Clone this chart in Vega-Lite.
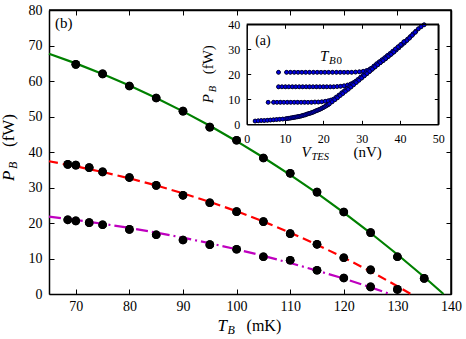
{
 "$schema": "https://vega.github.io/schema/vega-lite/v6.json",
 "width": 402, "height": 284,
 "autosize": {"type": "none"},
 "padding": {"left": 49, "top": 10, "right": 15, "bottom": 45},
 "background": "white",
 "config": {
  "view": {"stroke": null},
  "axis": {"grid": false, "domainColor": "black", "tickColor": "black", "labelColor": "black", "labelFont": "Liberation Serif", "domainWidth": 1.5, "tickWidth": 1, "labelFlush": false, "labelOverlap": false}
 },
 "datasets": {
  "frameMain": [{"i":1,"T":65,"P":80},{"i":2,"T":140,"P":80},{"i":3,"T":140,"P":0}],
  "frameInset": [{"i":1,"V":0,"P":40},{"i":2,"V":50,"P":40},{"i":3,"V":50,"P":0}],
  "fitG": [
   {"T":65,"P":67.7},{"T":70,"P":64.96},{"T":75,"P":61.98},{"T":80,"P":58.73},{"T":85,"P":55.21},{"T":90,"P":51.44},{"T":95,"P":47.39},{"T":100,"P":43.05},{"T":105,"P":38.45},{"T":110,"P":33.56},{"T":115,"P":28.39},{"T":120,"P":22.93},{"T":125,"P":17.18},{"T":130,"P":11.13},{"T":135,"P":4.78},{"T":138.6,"P":0}
  ],
  "fitR": [
   {"T":65,"P":37.4},{"T":70,"P":35.98},{"T":75,"P":34.37},{"T":80,"P":32.58},{"T":85,"P":30.58},{"T":90,"P":28.37},{"T":95,"P":25.95},{"T":100,"P":23.31},{"T":105,"P":20.41},{"T":110,"P":17.27},{"T":115,"P":13.89},{"T":120,"P":10.24},{"T":125,"P":6.37},{"T":130,"P":2.2},{"T":132.5,"P":0}
  ],
  "fitM": [
   {"T":65,"P":21.8},{"T":70,"P":20.85},{"T":75,"P":19.79},{"T":80,"P":18.61},{"T":85,"P":17.29},{"T":90,"P":15.86},{"T":95,"P":14.29},{"T":100,"P":12.59},{"T":105,"P":10.74},{"T":110,"P":8.74},{"T":115,"P":6.59},{"T":120,"P":4.34},{"T":125,"P":1.88},{"T":128.6,"P":0}
  ],
  "meas": [
   {"T":70,"P":64.7},{"T":75,"P":62.0},{"T":80,"P":58.6},{"T":85,"P":55.2},{"T":90,"P":51.5},{"T":95,"P":47.0},{"T":100,"P":43.3},{"T":105,"P":38.3},{"T":110,"P":34.0},{"T":115,"P":28.7},{"T":120,"P":23.1},{"T":125,"P":17.3},{"T":130,"P":10.5},{"T":135,"P":4.4},
   {"T":68.5,"P":36.5},{"T":70,"P":36.3},{"T":72.5,"P":35.6},{"T":75,"P":34.4},{"T":80,"P":32.8},{"T":85,"P":30.6},{"T":90,"P":27.8},{"T":95,"P":25.7},{"T":100,"P":23.2},{"T":105,"P":20.4},{"T":110,"P":17.0},{"T":115,"P":14.0},{"T":120,"P":10.2},{"T":125,"P":6.8},{"T":130,"P":1.3},
   {"T":68.5,"P":20.9},{"T":70,"P":20.6},{"T":72.5,"P":20.1},{"T":75,"P":19.5},{"T":80,"P":18.2},{"T":85,"P":16.7},{"T":90,"P":15.2},{"T":95,"P":13.9},{"T":100,"P":12.6},{"T":105,"P":10.5},{"T":110,"P":9.5},{"T":115,"P":6.7},{"T":120,"P":4.5},{"T":125,"P":2.0}
  ],
  "iv": [
   {"V":8.3,"P":20.8},{"V":10.4,"P":20.8},{"V":11.4,"P":20.8},{"V":12.4,"P":20.8},{"V":13.4,"P":20.8},{"V":14.4,"P":20.8},{"V":15.4,"P":20.8},{"V":16.4,"P":20.8},{"V":17.4,"P":20.8},{"V":18.4,"P":20.8},{"V":19.4,"P":20.8},{"V":20.4,"P":20.8},{"V":21.4,"P":20.8},{"V":22.4,"P":20.8},{"V":23.4,"P":20.8},{"V":24.4,"P":20.8},{"V":25.4,"P":20.8},{"V":26.4,"P":20.8},{"V":27.4,"P":20.8},{"V":28.4,"P":20.9},{"V":29.4,"P":21.0},{"V":30.4,"P":21.2},{"V":31.3,"P":21.5},{"V":32.1,"P":22.0},{"V":32.9,"P":22.6},{"V":33.6,"P":23.5},{"V":34.3,"P":24.3},{"V":35.0,"P":25.1},{"V":35.7,"P":25.9},{"V":36.4,"P":26.8},{"V":37.1,"P":27.6},{"V":37.8,"P":28.5},{"V":38.5,"P":29.4},{"V":39.2,"P":30.3},{"V":39.9,"P":31.2},{"V":40.6,"P":32.1},{"V":41.3,"P":33.1},{"V":42.0,"P":34.1},{"V":42.7,"P":35.1},{"V":43.4,"P":36.2},{"V":44.1,"P":37.2},{"V":44.8,"P":38.2},{"V":45.5,"P":39.0},{"V":46.3,"P":39.8},
   {"V":8.3,"P":15.0},{"V":9.2,"P":15.0},{"V":10.1,"P":15.0},{"V":11.0,"P":15.0},{"V":11.9,"P":15.0},{"V":12.8,"P":15.0},{"V":13.7,"P":15.0},{"V":14.6,"P":15.0},{"V":15.5,"P":15.0},{"V":16.4,"P":15.0},{"V":17.3,"P":15.0},{"V":18.2,"P":15.0},{"V":19.1,"P":15.0},{"V":20.0,"P":15.0},{"V":20.9,"P":15.0},{"V":21.8,"P":15.0},{"V":22.7,"P":15.0},{"V":23.6,"P":15.1},{"V":24.5,"P":15.2},{"V":25.4,"P":15.4},{"V":26.3,"P":15.7},{"V":27.1,"P":16.1},{"V":27.8,"P":16.6},{"V":28.5,"P":17.2},{"V":29.2,"P":17.8},{"V":29.9,"P":18.6},{"V":30.6,"P":19.4},{"V":31.3,"P":20.2},{"V":32.0,"P":21.1},{"V":32.7,"P":22.0},{"V":33.4,"P":22.9},{"V":34.1,"P":23.8},{"V":34.8,"P":24.6},{"V":35.5,"P":25.4},{"V":36.2,"P":26.2},{"V":36.9,"P":27.1},{"V":37.6,"P":28.0},{"V":38.3,"P":28.9},{"V":39.0,"P":29.7},{"V":39.7,"P":30.6},{"V":40.4,"P":31.6},{"V":41.1,"P":32.5},{"V":41.8,"P":33.5},{"V":42.5,"P":34.5},{"V":43.2,"P":35.6},{"V":44.0,"P":36.8},
   {"V":5.6,"P":8.8},{"V":7.0,"P":8.8},{"V":7.9,"P":8.8},{"V":8.8,"P":8.8},{"V":9.7,"P":8.8},{"V":10.6,"P":8.8},{"V":11.5,"P":8.8},{"V":12.4,"P":8.8},{"V":13.3,"P":8.8},{"V":14.2,"P":8.8},{"V":15.1,"P":8.8},{"V":16.0,"P":8.8},{"V":16.9,"P":8.8},{"V":17.8,"P":8.9},{"V":18.7,"P":8.9},{"V":19.6,"P":9.0},{"V":20.5,"P":9.2},{"V":21.3,"P":9.4},{"V":22.0,"P":9.7},{"V":22.7,"P":10.1},{"V":23.4,"P":10.9},{"V":24.1,"P":11.7},{"V":24.8,"P":12.6},{"V":25.5,"P":13.4},{"V":26.2,"P":14.3},{"V":26.9,"P":15.2},{"V":27.6,"P":16.1},{"V":28.3,"P":17.0},{"V":29.0,"P":17.9},{"V":29.7,"P":18.8},{"V":30.4,"P":19.7},{"V":31.1,"P":20.6},{"V":31.8,"P":21.5},{"V":32.5,"P":22.4},{"V":33.2,"P":23.3},{"V":33.9,"P":24.2},{"V":34.6,"P":25.0},{"V":35.3,"P":25.8},{"V":36.0,"P":26.6},{"V":36.7,"P":27.5},{"V":37.4,"P":28.3},{"V":38.1,"P":29.2},{"V":38.8,"P":30.1},{"V":39.5,"P":31.0},{"V":40.2,"P":31.9},{"V":41.0,"P":33.0},
   {"V":2.2,"P":1.3},{"V":3.0,"P":1.4},{"V":3.8,"P":1.5},{"V":4.6,"P":1.5},{"V":5.4,"P":1.6},{"V":6.2,"P":1.7},{"V":7.0,"P":1.8},{"V":7.8,"P":1.9},{"V":8.6,"P":2.0},{"V":9.4,"P":2.1},{"V":10.2,"P":2.2},{"V":10.6,"P":2.3},{"V":11.0,"P":2.4},{"V":11.4,"P":2.5},{"V":11.8,"P":2.6},{"V":12.15,"P":2.7},{"V":12.5,"P":2.8},{"V":12.85,"P":2.9},{"V":13.2,"P":3.0},{"V":13.55,"P":3.1},{"V":13.9,"P":3.2},{"V":14.25,"P":3.35},{"V":14.6,"P":3.5},{"V":14.95,"P":3.65},{"V":15.3,"P":3.8},{"V":15.65,"P":4.0},{"V":16.0,"P":4.2},{"V":16.35,"P":4.35},{"V":16.7,"P":4.5},{"V":17.05,"P":4.7},{"V":17.4,"P":4.9},{"V":17.75,"P":5.15},{"V":18.1,"P":5.4},{"V":18.45,"P":5.6},{"V":18.8,"P":5.8},{"V":19.15,"P":6.05},{"V":19.5,"P":6.3},{"V":19.85,"P":6.6},{"V":20.2,"P":6.9},{"V":20.55,"P":7.2},{"V":20.9,"P":7.5},{"V":21.25,"P":7.85},{"V":21.6,"P":8.2},{"V":22.3,"P":9.0},{"V":23.0,"P":9.8},{"V":23.7,"P":10.6},{"V":24.4,"P":11.5},{"V":25.1,"P":12.3},{"V":25.8,"P":13.2},{"V":26.5,"P":14.0},{"V":27.2,"P":14.9},{"V":27.9,"P":15.8},{"V":28.6,"P":16.7},{"V":29.3,"P":17.6},{"V":30.0,"P":18.5},{"V":30.7,"P":19.4},{"V":31.4,"P":20.3},{"V":32.1,"P":21.2},{"V":32.8,"P":22.1},{"V":33.5,"P":23.0},{"V":34.2,"P":23.8},{"V":34.9,"P":24.7},{"V":35.6,"P":25.5},{"V":36.3,"P":26.3},{"V":37.0,"P":27.2},{"V":37.7,"P":28.0},{"V":38.4,"P":28.9}
  ]
 },
 "layer": [
  {"data": {"name": "fitG"},
   "mark": {"type": "line", "color": "#008000", "strokeWidth": 2.2},
   "encoding": {
    "x": {"field": "T", "type": "quantitative", "scale": {"domain": [65, 140], "nice": false, "zero": false},
          "axis": {"orient": "bottom", "title": null, "values": [70, 80, 90, 100, 110, 120, 130, 140], "tickSize": -5, "labelPadding": 10, "labelFontSize": 14}},
    "y": {"field": "P", "type": "quantitative", "scale": {"domain": [0, 80], "nice": false},
          "axis": {"orient": "left", "title": null, "values": [0, 10, 20, 30, 40, 50, 60, 70, 80], "tickSize": -5, "labelPadding": 12, "labelFontSize": 14}}
   }},
  {"data": {"name": "meas"},
   "mark": {"type": "point", "filled": true, "color": "black", "size": 75, "opacity": 1},
   "encoding": {
    "x": {"field": "T", "type": "quantitative", "scale": {"domain": [65, 140], "nice": false, "zero": false},
          "axis": {"orient": "top", "title": null, "values": [70, 80, 90, 100, 110, 120, 130, 140], "tickSize": -5, "labels": false}},
    "y": {"field": "P", "type": "quantitative", "scale": {"domain": [0, 80], "nice": false},
          "axis": {"orient": "right", "title": null, "values": [0, 10, 20, 30, 40, 50, 60, 70, 80], "tickSize": -5, "labels": false}}
   }},
  {"data": {"name": "iv"},
   "mark": {"type": "point", "filled": true, "fill": "#0000e0", "stroke": "black", "strokeWidth": 0.6, "size": 15, "opacity": 1},
   "encoding": {
    "x": {"field": "V", "type": "quantitative", "scale": {"domain": [0, 50], "range": [197.7, 389.3], "nice": false, "zero": false},
          "axis": {"orient": "bottom", "title": null, "offset": -169.7, "values": [0, 10, 20, 30, 40, 50], "tickSize": -4, "labelPadding": 13, "labelFontSize": 12}},
    "y": {"field": "P", "type": "quantitative", "scale": {"domain": [0, 40], "range": [114.3, 14.3], "nice": false},
          "axis": {"orient": "left", "title": null, "offset": -197.7, "values": [0, 10, 20, 30, 40], "tickSize": -4, "labelPadding": 11, "labelFontSize": 12}}
   }},
  {"data": {"name": "iv"},
   "mark": {"type": "point", "filled": true, "fill": "#0000e0", "stroke": "black", "strokeWidth": 0.6, "size": 15, "opacity": 1},
   "encoding": {
    "x": {"field": "V", "type": "quantitative", "scale": {"domain": [0, 50], "range": [197.7, 389.3], "nice": false, "zero": false},
          "axis": {"orient": "top", "title": null, "offset": -14.3, "values": [0, 10, 20, 30, 40, 50], "tickSize": -4, "labels": false}},
    "y": {"field": "P", "type": "quantitative", "scale": {"domain": [0, 40], "range": [114.3, 14.3], "nice": false},
          "axis": {"orient": "right", "title": null, "offset": -12.7, "values": [0, 10, 20, 30, 40], "tickSize": -4, "labels": false}}
   }},
  {"data": {"name": "frameMain"},
   "mark": {"type": "line", "color": "black", "strokeWidth": 1.5},
   "encoding": {
    "x": {"field": "T", "type": "quantitative", "scale": {"domain": [65, 140], "nice": false, "zero": false}, "axis": null},
    "y": {"field": "P", "type": "quantitative", "scale": {"domain": [0, 80], "nice": false}, "axis": null},
    "order": {"field": "i", "type": "quantitative"}
   }},
  {"data": {"name": "frameInset"},
   "mark": {"type": "line", "color": "black", "strokeWidth": 1.5},
   "encoding": {
    "x": {"field": "V", "type": "quantitative", "scale": {"domain": [0, 50], "range": [197.7, 389.3], "nice": false, "zero": false}, "axis": null},
    "y": {"field": "P", "type": "quantitative", "scale": {"domain": [0, 40], "range": [114.3, 14.3], "nice": false}, "axis": null},
    "order": {"field": "i", "type": "quantitative"}
   }},
  {"data": {"name": "fitR"},
   "mark": {"type": "line", "color": "#ff0000", "strokeWidth": 2.2, "strokeDash": [9, 5]},
   "encoding": {
    "x": {"field": "T", "type": "quantitative", "scale": {"domain": [65, 140], "nice": false, "zero": false}, "axis": null},
    "y": {"field": "P", "type": "quantitative", "scale": {"domain": [0, 80], "nice": false}, "axis": null}
   }},
  {"data": {"name": "fitM"},
   "mark": {"type": "line", "color": "#bf00bf", "strokeWidth": 2.2, "strokeDash": [12, 4, 2, 4]},
   "encoding": {
    "x": {"field": "T", "type": "quantitative", "scale": {"domain": [65, 140], "nice": false, "zero": false}, "axis": null},
    "y": {"field": "P", "type": "quantitative", "scale": {"domain": [0, 80], "nice": false}, "axis": null}
   }},
  {"data": {"name": "meas"},
   "mark": {"type": "point", "filled": true, "color": "black", "size": 75, "opacity": 1},
   "encoding": {
    "x": {"field": "T", "type": "quantitative", "scale": {"domain": [65, 140], "nice": false, "zero": false}, "axis": null},
    "y": {"field": "P", "type": "quantitative", "scale": {"domain": [0, 80], "nice": false}, "axis": null}
   }},
  {"data": {"values": [{}]},
   "mark": {"type": "text", "font": "Liberation Serif", "color": "black", "text": "T", "fontStyle": "italic", "fontSize": 17, "align": "left", "baseline": "alphabetic", "dx": -19, "dy": 37},
   "encoding": {"x": {"datum": 100, "type": "quantitative", "scale": {"domain": [65, 140], "nice": false, "zero": false}, "axis": null}, "y": {"datum": 0, "type": "quantitative", "scale": {"domain": [0, 80], "nice": false}, "axis": null}}},
  {"data": {"values": [{}]},
   "mark": {"type": "text", "font": "Liberation Serif", "color": "black", "text": "B", "fontStyle": "italic", "fontSize": 12, "align": "left", "baseline": "alphabetic", "dx": -9, "dy": 40},
   "encoding": {"x": {"datum": 100, "type": "quantitative", "scale": {"domain": [65, 140], "nice": false, "zero": false}, "axis": null}, "y": {"datum": 0, "type": "quantitative", "scale": {"domain": [0, 80], "nice": false}, "axis": null}}},
  {"data": {"values": [{}]},
   "mark": {"type": "text", "font": "Liberation Serif", "color": "black", "text": "(mK)", "fontSize": 16, "align": "left", "baseline": "alphabetic", "dx": 10, "dy": 37},
   "encoding": {"x": {"datum": 100, "type": "quantitative", "scale": {"domain": [65, 140], "nice": false, "zero": false}, "axis": null}, "y": {"datum": 0, "type": "quantitative", "scale": {"domain": [0, 80], "nice": false}, "axis": null}}},
  {"data": {"values": [{}]},
   "mark": {"type": "text", "font": "Liberation Serif", "color": "black", "text": "P", "fontStyle": "italic", "fontSize": 17, "align": "left", "baseline": "alphabetic", "angle": 270, "dx": -29, "dy": -35},
   "encoding": {"x": {"datum": 65, "type": "quantitative", "scale": {"domain": [65, 140], "nice": false, "zero": false}, "axis": null}, "y": {"datum": 40, "type": "quantitative", "scale": {"domain": [0, 80], "nice": false}, "axis": null}}},
  {"data": {"values": [{}]},
   "mark": {"type": "text", "font": "Liberation Serif", "color": "black", "text": "B", "fontStyle": "italic", "fontSize": 12, "align": "left", "baseline": "alphabetic", "angle": 270, "dx": -17, "dy": -32},
   "encoding": {"x": {"datum": 65, "type": "quantitative", "scale": {"domain": [65, 140], "nice": false, "zero": false}, "axis": null}, "y": {"datum": 40, "type": "quantitative", "scale": {"domain": [0, 80], "nice": false}, "axis": null}}},
  {"data": {"values": [{}]},
   "mark": {"type": "text", "font": "Liberation Serif", "color": "black", "text": "(fW)", "fontSize": 17, "align": "left", "baseline": "alphabetic", "angle": 270, "dx": 5, "dy": -35},
   "encoding": {"x": {"datum": 65, "type": "quantitative", "scale": {"domain": [65, 140], "nice": false, "zero": false}, "axis": null}, "y": {"datum": 40, "type": "quantitative", "scale": {"domain": [0, 80], "nice": false}, "axis": null}}},
  {"data": {"values": [{}]},
   "mark": {"type": "text", "font": "Liberation Serif", "color": "black", "text": "(b)", "fontSize": 15, "align": "left", "baseline": "alphabetic"},
   "encoding": {"x": {"datum": 66.1, "type": "quantitative", "scale": {"domain": [65, 140], "nice": false, "zero": false}, "axis": null}, "y": {"datum": 74.8, "type": "quantitative", "scale": {"domain": [0, 80], "nice": false}, "axis": null}}},
  {"data": {"values": [{}]},
   "mark": {"type": "text", "font": "Liberation Serif", "color": "black", "text": "(a)", "fontSize": 14, "align": "left", "baseline": "alphabetic"},
   "encoding": {"x": {"datum": 2.2, "type": "quantitative", "scale": {"domain": [0, 50], "range": [197.7, 389.3], "nice": false, "zero": false}, "axis": null}, "y": {"datum": 31.7, "type": "quantitative", "scale": {"domain": [0, 40], "range": [114.3, 14.3], "nice": false}, "axis": null}}},
  {"data": {"values": [{}]},
   "mark": {"type": "text", "font": "Liberation Serif", "color": "black", "text": "T", "fontStyle": "italic", "fontSize": 15, "align": "left", "baseline": "alphabetic"},
   "encoding": {"x": {"datum": 19.1, "type": "quantitative", "scale": {"domain": [0, 50], "range": [197.7, 389.3], "nice": false, "zero": false}, "axis": null}, "y": {"datum": 25.3, "type": "quantitative", "scale": {"domain": [0, 40], "range": [114.3, 14.3], "nice": false}, "axis": null}}},
  {"data": {"values": [{}]},
   "mark": {"type": "text", "font": "Liberation Serif", "color": "black", "text": "B", "fontStyle": "italic", "fontSize": 11, "align": "left", "baseline": "alphabetic", "dx": 9, "dy": 3},
   "encoding": {"x": {"datum": 19.1, "type": "quantitative", "scale": {"domain": [0, 50], "range": [197.7, 389.3], "nice": false, "zero": false}, "axis": null}, "y": {"datum": 25.3, "type": "quantitative", "scale": {"domain": [0, 40], "range": [114.3, 14.3], "nice": false}, "axis": null}}},
  {"data": {"values": [{}]},
   "mark": {"type": "text", "font": "Liberation Serif", "color": "black", "text": "0", "fontSize": 11, "align": "left", "baseline": "alphabetic", "dx": 16.5, "dy": 3},
   "encoding": {"x": {"datum": 19.1, "type": "quantitative", "scale": {"domain": [0, 50], "range": [197.7, 389.3], "nice": false, "zero": false}, "axis": null}, "y": {"datum": 25.3, "type": "quantitative", "scale": {"domain": [0, 40], "range": [114.3, 14.3], "nice": false}, "axis": null}}},
  {"data": {"values": [{}]},
   "mark": {"type": "text", "font": "Liberation Serif", "color": "black", "text": "V", "fontStyle": "italic", "fontSize": 15, "align": "left", "baseline": "alphabetic", "dx": -41, "dy": 33},
   "encoding": {"x": {"datum": 25, "type": "quantitative", "scale": {"domain": [0, 50], "range": [197.7, 389.3], "nice": false, "zero": false}, "axis": null}, "y": {"datum": 0, "type": "quantitative", "scale": {"domain": [0, 40], "range": [114.3, 14.3], "nice": false}, "axis": null}}},
  {"data": {"values": [{}]},
   "mark": {"type": "text", "font": "Liberation Serif", "color": "black", "text": "TES", "fontStyle": "italic", "fontSize": 10.5, "align": "left", "baseline": "alphabetic", "dx": -31, "dy": 36},
   "encoding": {"x": {"datum": 25, "type": "quantitative", "scale": {"domain": [0, 50], "range": [197.7, 389.3], "nice": false, "zero": false}, "axis": null}, "y": {"datum": 0, "type": "quantitative", "scale": {"domain": [0, 40], "range": [114.3, 14.3], "nice": false}, "axis": null}}},
  {"data": {"values": [{}]},
   "mark": {"type": "text", "font": "Liberation Serif", "color": "black", "text": "(nV)", "fontSize": 15, "align": "left", "baseline": "alphabetic", "dx": 11, "dy": 33},
   "encoding": {"x": {"datum": 25, "type": "quantitative", "scale": {"domain": [0, 50], "range": [197.7, 389.3], "nice": false, "zero": false}, "axis": null}, "y": {"datum": 0, "type": "quantitative", "scale": {"domain": [0, 40], "range": [114.3, 14.3], "nice": false}, "axis": null}}},
  {"data": {"values": [{}]},
   "mark": {"type": "text", "font": "Liberation Serif", "color": "black", "text": "P", "fontStyle": "italic", "fontSize": 15, "align": "left", "baseline": "alphabetic", "angle": 270, "dx": -29, "dy": -34},
   "encoding": {"x": {"datum": 0, "type": "quantitative", "scale": {"domain": [0, 50], "range": [197.7, 389.3], "nice": false, "zero": false}, "axis": null}, "y": {"datum": 20, "type": "quantitative", "scale": {"domain": [0, 40], "range": [114.3, 14.3], "nice": false}, "axis": null}}},
  {"data": {"values": [{}]},
   "mark": {"type": "text", "font": "Liberation Serif", "color": "black", "text": "B", "fontStyle": "italic", "fontSize": 10.5, "align": "left", "baseline": "alphabetic", "angle": 270, "dx": -18, "dy": -31},
   "encoding": {"x": {"datum": 0, "type": "quantitative", "scale": {"domain": [0, 50], "range": [197.7, 389.3], "nice": false, "zero": false}, "axis": null}, "y": {"datum": 20, "type": "quantitative", "scale": {"domain": [0, 40], "range": [114.3, 14.3], "nice": false}, "axis": null}}},
  {"data": {"values": [{}]},
   "mark": {"type": "text", "font": "Liberation Serif", "color": "black", "text": "(fW)", "fontSize": 15, "align": "left", "baseline": "alphabetic", "angle": 270, "dx": 0, "dy": -34},
   "encoding": {"x": {"datum": 0, "type": "quantitative", "scale": {"domain": [0, 50], "range": [197.7, 389.3], "nice": false, "zero": false}, "axis": null}, "y": {"datum": 20, "type": "quantitative", "scale": {"domain": [0, 40], "range": [114.3, 14.3], "nice": false}, "axis": null}}}
 ],
 "resolve": {"scale": {"x": "independent", "y": "independent"}}
}
